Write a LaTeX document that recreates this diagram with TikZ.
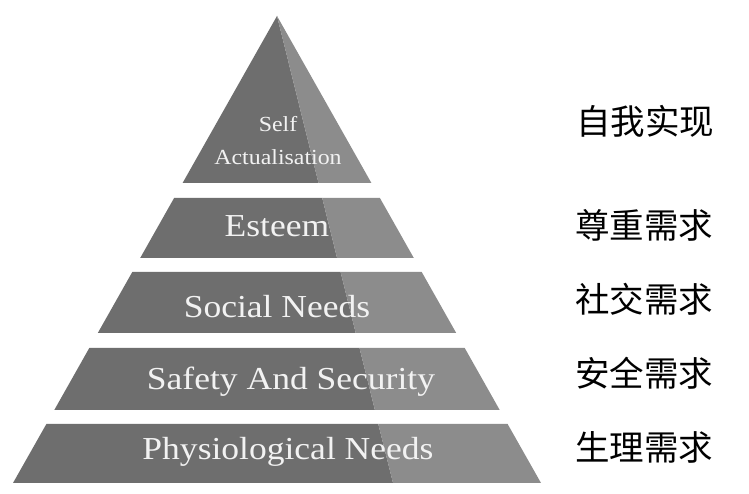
\documentclass[tikz,border=0pt]{standalone}
\usepackage{fontspec}
\setmainfont{Liberation Serif}
\newfontfamily\labelfont[FakeStretch=1.11]{Liberation Serif}
\newfontfamily\cjk{Noto Sans CJK SC}
\definecolor{facedark}{RGB}{110,110,110}
\definecolor{facelight}{RGB}{140,140,140}
\definecolor{labeltext}{RGB}{242,242,242}
\begin{document}
\begin{tikzpicture}[x=1pt,y=1pt,
  darkface/.style={fill=facedark},
  lightface/.style={fill=facelight},
  bandlabel/.style={text=labeltext,inner sep=0pt,anchor=base,font=\labelfont\fontsize{32}{36}\selectfont},
  toplabel/.style={text=labeltext,inner sep=0pt,anchor=base,font=\labelfont\fontsize{21.5}{24}\selectfont},
  cnlabel/.style={text=black,inner sep=0pt,anchor=west,font=\cjk\fontsize{34.5}{38}\selectfont}]
\useasboundingbox (0,0) rectangle (749,494);
\fill[white] (0,0) rectangle (749,494);
% top triangle
\fill[darkface] (277,478) -- (182.6,311) -- (318.5,311) -- cycle;
\fill[lightface] (277,478) -- (318.5,311) -- (371.4,311) -- cycle;
% esteem
\fill[darkface] (174.1,296) -- (140.2,236) -- (337.1,236) -- (322.2,296) -- cycle;
\fill[lightface] (322.2,296) -- (337.1,236) -- (413.8,236) -- (379.9,296) -- cycle;
% social
\fill[darkface] (132.3,222) -- (97.8,161) -- (355.7,161) -- (340.6,222) -- cycle;
\fill[lightface] (340.6,222) -- (355.7,161) -- (456.2,161) -- (421.7,222) -- cycle;
% safety
\fill[darkface] (89.3,146) -- (54.3,84) -- (374.9,84) -- (359.5,146) -- cycle;
\fill[lightface] (359.5,146) -- (374.9,84) -- (499.7,84) -- (464.7,146) -- cycle;
% physiological
\fill[darkface] (46.4,70) -- (13.0,11) -- (393.0,11) -- (378.3,70) -- cycle;
\fill[lightface] (378.3,70) -- (393.0,11) -- (541.0,11) -- (507.6,70) -- cycle;
% labels
\node[toplabel] (self) at (278,362) {Self};
\node[toplabel] (actual) at (278,329) {Actualisation};
\node[bandlabel] (esteem) at (277,257) {Esteem};
\node[bandlabel] (social) at (277,176) {Social Needs};
\node[bandlabel] (safety) at (291,104) {Safety And Security};
\node[bandlabel] (physio) at (288,34) {Physiological Needs};
% chinese
\node[cnlabel] (cn1) at (576,373) {自我实现};
\node[cnlabel] (cn2) at (575,269) {尊重需求};
\node[cnlabel] (cn3) at (575,195) {社交需求};
\node[cnlabel] (cn4) at (575,121) {安全需求};
\node[cnlabel] (cn5) at (575,47) {生理需求};
\end{tikzpicture}
\end{document}
